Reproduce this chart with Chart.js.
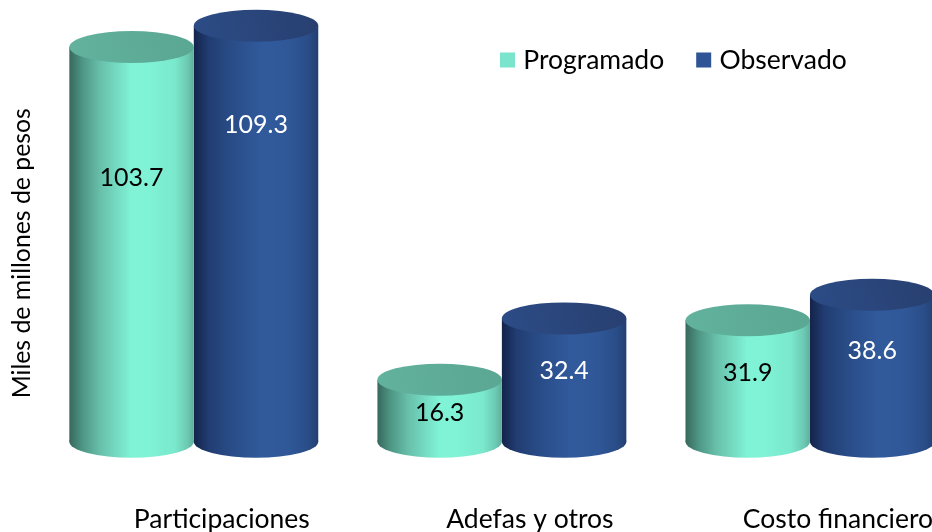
<!DOCTYPE html>
<html><head><meta charset="utf-8">
<style>html,body{margin:0;padding:0;background:#fff;overflow:hidden;width:932px;height:532px}canvas{display:block}</style>
<script src="https://cdn.jsdelivr.net/npm/chart.js@4"></script></head>
<body><canvas id="c" width="964" height="532"></canvas>
<script>
const categories = ['Participaciones', 'Adefas y otros', 'Costo financiero'];
const programado = [103.7, 16.3, 31.9];
const observado = [109.3, 32.4, 38.6];
const seriesNames = ['Programado', 'Observado'];
const axisTitle = 'Miles de millones de pesos';

const FONT = 'Lato, "Open Sans", sans-serif';
const tealStops = [[0,'#37685c'],[0.1,'#4d9483'],[0.25,'#68c0ab'],[0.5,'#80f3d6'],[0.62,'#80f3d6'],[0.85,'#7ae8cc'],[0.95,'#6cc9b3'],[1,'#5fae9b']];
const blueStops = [[0,'#14244a'],[0.12,'#213d72'],[0.3,'#294c87'],[0.55,'#315a9c'],[0.75,'#305899'],[0.92,'#2a4d88'],[1,'#223f72']];
const capColors = [['#62b29e','#5aa793'],['#2c4c86','#283f70']];
const legendColors = ['#7AE5CC','#2F5597'];
const labelColors = ['#000000','#ffffff'];
const labelDrops = [[131,33,53],[99,53,56]];

function bodyGradient(c, left, width, stops){
  const g = c.createLinearGradient(left,0,left+width,0);
  stops.forEach(s=>g.addColorStop(s[0],s[1]));
  return g;
}
function barFill(stops){
  return function(ctx){
    const x = ctx.chart.scales.x;
    if(!x || ctx.dataIndex===undefined) return stops[3][1];
    const bw = (x.width/categories.length)*0.808/2;
    const left = x.getPixelForValue(ctx.dataIndex) + (ctx.datasetIndex-1)*bw;
    return bodyGradient(ctx.chart.ctx,left,bw,stops);
  };
}
const RY = 16;
const cylinder = {
  id:'cylinder',
  beforeLayout(chart){
    const l=chart.legend;
    if(l && !l.__flat){
      const f=l.fit;
      l.fit=function(){f.call(this);this.height=0;};
      l.__flat=true;
    }
  },
  afterLayout(chart){
    const l=chart.legend; if(!l) return;
    const w=l.width;
    l.left=468; l.right=l.left+w; l.top=9.75; l.bottom=l.top+110;
  },
  beforeDatasetsDraw(chart){
    const c = chart.ctx;
    chart.data.datasets.forEach((d,i)=>{
      const stops = i===0?tealStops:blueStops;
      chart.getDatasetMeta(i).data.forEach(b=>{
        const left=b.x-b.width/2;
        c.save();
        c.fillStyle=bodyGradient(c,left,b.width,stops);
        c.beginPath();
        c.ellipse(b.x,b.base,b.width/2,RY,0,0,Math.PI*2);
        c.fill();
        c.restore();
      });
    });
  },
  afterDatasetsDraw(chart){
    const c = chart.ctx;
    chart.data.datasets.forEach((d,i)=>{
      chart.getDatasetMeta(i).data.forEach((b,j)=>{
        const g=c.createLinearGradient(b.x-b.width/2,b.y+RY,b.x+b.width/2,b.y-RY);
        g.addColorStop(0,capColors[i][0]);
        g.addColorStop(1,capColors[i][1]);
        c.save();
        c.fillStyle=g;
        c.beginPath();
        c.ellipse(b.x,b.y,b.width/2,RY,0,0,Math.PI*2);
        c.fill();
        c.fillStyle=labelColors[i];
        c.font='25px '+FONT;
        c.textAlign='center';
        c.textBaseline='middle';
        c.fillText(d.data[j].toFixed(1),b.x,b.y+labelDrops[i][j]);
        c.restore();
      });
    });
  }
};
new Chart(document.getElementById('c'),{
  type:'bar',
  data:{labels:categories,datasets:[
    {label:seriesNames[0],data:programado,backgroundColor:barFill(tealStops),borderWidth:0},
    {label:seriesNames[1],data:observado,backgroundColor:barFill(blueStops),borderWidth:0}
  ]},
  options:{
    responsive:false,animation:false,
    datasets:{bar:{categoryPercentage:0.808,barPercentage:1}},
    layout:{padding:{left:7,right:0,top:4,bottom:-4.4}},
    plugins:{
      tooltip:{enabled:false},
      legend:{display:true,position:'top',align:'start',
        labels:{boxWidth:5,boxHeight:5,padding:37,color:'#000',font:{family:FONT,size:26.5},
          generateLabels:()=>seriesNames.map((n,i)=>({text:n,fillStyle:legendColors[i],strokeStyle:legendColors[i],lineWidth:10,lineJoin:'miter',datasetIndex:i,fontColor:'#000'}))}}
    },
    scales:{
      x:{grid:{display:false,drawTicks:false},border:{display:false},
        ticks:{color:'#000',font:{family:FONT,size:26.5},labelOffset:28,padding:1,maxRotation:0,autoSkip:false}},
      y:{min:-16,max:115,grid:{display:false,drawTicks:false},border:{display:false},
        ticks:{display:false},
        title:{display:true,text:axisTitle,color:'#000',font:{family:FONT,size:24.8},padding:{top:0,bottom:3}}}
    }
  },
  plugins:[cylinder]
});
</script></body></html>
